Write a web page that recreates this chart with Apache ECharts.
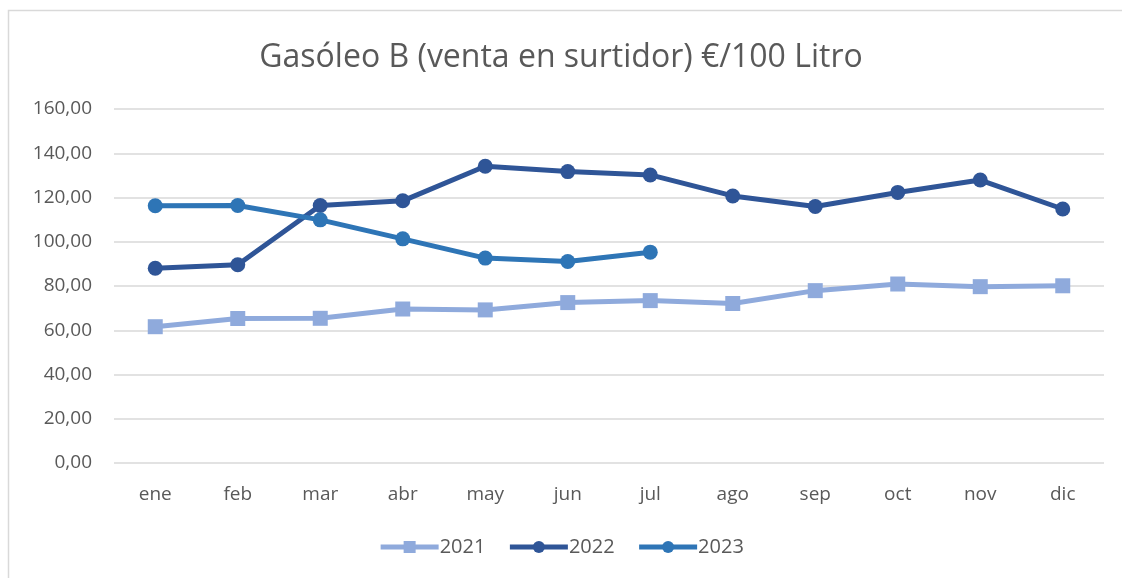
<!DOCTYPE html>
<html>
<head>
<meta charset="utf-8">
<script src="https://cdn.jsdelivr.net/npm/echarts@6/dist/echarts.min.js"></script>
<style>
  html, body { margin: 0; padding: 0; background: #fff; }
  #chart { width: 1122px; height: 578px; }
</style>
</head>
<body>
<div id="chart"></div>
<script>
// meses
const months = ['ene', 'feb', 'mar', 'abr', 'may', 'jun', 'jul', 'ago', 'sep', 'oct', 'nov', 'dic']

// precios €/100 litro
const v2021 = [61.6, 65.3, 65.4, 69.6, 69.2, 72.5, 73.4, 72.1, 77.9, 80.9, 79.7, 80.1]
const v2022 = [88.0, 89.6, 116.4, 118.5, 134.1, 131.7, 130.2, 120.7, 115.9, 122.3, 127.9, 114.8]
const v2023 = [116.3, 116.4, 109.9, 101.3, 92.6, 91.1, 95.3]

const font = 'Open Sans'
const grey = '#595959'

function fmt (v) {
    return v.toFixed(2).replace('.', ',')
}

function line (name, data, color, symbol, size) {
    return {
        name: name,
        type: 'line',
        data: data,
        symbol: symbol,
        symbolSize: size,
        color: color,
        lineStyle: { width: 5, color: color },
        itemStyle: { color: color },
        animation: false
    }
}

const chart = echarts.init(document.getElementById('chart'))
chart.setOption({
    backgroundColor: '#fff',
    graphic: [{
        type: 'rect',
        shape: { x: 8.5, y: 10.5, width: 1130, height: 600 },
        style: { fill: 'none', stroke: '#D9D9D9', lineWidth: 1.5 }
    }],
    title: {
        text: 'Gasóleo B (venta en surtidor) €/100 Litro',
        left: 'center',
        top: 37,
        textStyle: { fontFamily: font, fontSize: 32, fontWeight: 'normal', color: grey }
    },
    grid: { left: 114, right: 18, top: 109, bottom: 115 },
    legend: {
        bottom: 16,
        left: 'center',
        itemWidth: 58,
        itemHeight: 15,
        itemGap: 22,
        lineStyle: { width: 5 },
        textStyle: { fontFamily: font, fontSize: 20, color: grey, padding: [0, 0, 0, -4] },
        data: ['2021', '2022', '2023']
    },
    xAxis: {
        type: 'category',
        data: months,
        boundaryGap: true,
        axisLine: { show: false },
        axisTick: { show: false },
        axisLabel: { fontFamily: font, fontSize: 19, color: grey, margin: 22 }
    },
    yAxis: {
        type: 'value',
        min: 0,
        max: 160,
        interval: 20,
        axisLine: { show: false },
        axisTick: { show: false },
        splitLine: { lineStyle: { color: '#D9D9D9', width: 1.5 } },
        axisLabel: { fontFamily: font, fontSize: 19, color: grey, margin: 22, formatter: fmt }
    },
    series: [
        line('2021', v2021, '#8FAADC', 'rect', 15),
        line('2022', v2022, '#2F5597', 'circle', 15),
        line('2023', v2023, '#2E75B6', 'circle', 15)
    ]
})
</script>
</body>
</html>
